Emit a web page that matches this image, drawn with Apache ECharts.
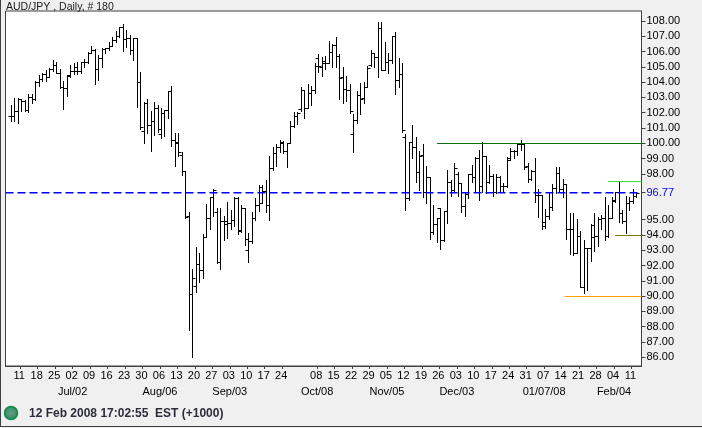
<!DOCTYPE html>
<html>
<head>
<meta charset="utf-8">
<style>
  html, body { margin: 0; padding: 0; background: #f0f0f0; overflow: hidden; }
  #chart { width: 702px; height: 428px; }
</style>
<script src="https://cdn.jsdelivr.net/npm/echarts@6/dist/echarts.min.js"></script>
</head>
<body>
<div id="chart"></div>
<script>
// AUD/JPY daily bars, one entry per session.
const opens = [
  101.77,101.81,102.12,102.93,102.78,102.16,103.02,102.88,104.02,104.24,
  104.54,104.33,104.89,105.13,104.63,103.69,103.60,104.48,104.74,104.70,
  104.70,105.31,105.31,105.92,106.09,104.85,105.57,106.18,106.27,106.38,
  106.73,107.03,107.60,106.84,106.88,106.12,106.88,104.00,100.83,102.62,
  101.20,101.47,102.29,100.59,101.97,102.19,103.45,100.22,100.07,99.24,
  98.21,95.24,90.11,90.66,92.08,91.71,93.89,95.09,96.84,95.48,
  92.25,94.91,94.71,94.80,94.98,96.44,94.32,95.74,93.01,93.62,
  95.09,95.96,97.16,96.88,95.96,98.36,99.34,99.74,100.00,99.52,
  100.00,101.13,101.79,102.22,103.49,102.29,103.32,103.49,105.56,105.02,
  105.23,105.23,105.96,106.44,105.74,104.32,103.58,103.47,100.58,101.50,
  103.16,102.94,103.66,105.13,105.89,105.67,107.57,104.80,105.34,105.45,
  107.02,104.14,104.51,100.39,96.44,100.06,99.78,98.10,99.23,96.83,
  97.77,94.17,94.69,95.74,93.64,95.56,97.44,96.94,97.99,97.37,
  95.89,96.65,97.96,97.81,99.06,97.22,99.16,97.44,97.88,96.83,
  97.81,97.22,97.22,99.01,99.51,99.51,99.93,99.93,98.53,97.67,
  98.19,96.62,96.62,94.61,95.26,95.85,97.05,98.08,96.99,97.34,
  94.37,94.37,92.80,93.93,90.57,93.12,93.12,93.89,93.93,95.02,
  95.09,93.93,95.09,96.29,96.84,95.46,94.94,96.07,96.25,96.55
];
const highs = [
  102.51,102.95,102.95,102.93,102.86,103.23,103.21,104.06,104.48,104.59,
  104.81,104.91,105.44,105.35,104.87,104.09,104.46,105.13,105.24,105.29,
  105.35,105.50,105.96,106.36,106.16,105.79,106.22,106.27,106.62,106.94,
  107.32,107.64,107.82,107.43,107.10,106.88,106.88,104.67,102.67,102.88,
  102.12,102.71,102.49,102.29,102.19,103.45,103.76,100.70,100.66,99.46,
  98.21,95.48,91.75,93.19,92.80,94.07,96.03,96.51,96.99,95.78,
  95.78,95.24,96.16,95.63,96.50,96.50,95.98,95.74,94.15,95.52,
  96.44,97.27,97.27,97.60,99.17,99.78,99.95,100.22,100.15,100.00,
  101.46,102.05,102.05,103.67,103.49,103.86,103.75,105.28,105.85,105.67,
  105.74,106.70,106.48,106.94,105.82,105.02,104.41,103.86,101.89,103.42,
  103.92,103.99,105.06,106.11,105.93,107.92,107.92,106.61,105.89,107.02,
  107.26,105.56,105.23,100.58,100.06,101.20,100.43,99.49,99.93,98.51,
  97.77,95.96,95.13,95.78,95.56,98.25,97.59,98.68,98.14,97.42,
  96.83,97.96,98.58,99.12,99.56,100.06,99.16,98.58,97.99,97.96,
  97.88,97.37,99.12,99.71,99.56,99.99,100.21,99.99,98.68,98.26,
  99.02,97.01,96.62,95.68,96.73,97.34,98.43,98.43,97.64,97.34,
  95.46,95.46,95.02,94.26,93.67,93.12,94.72,95.42,95.20,95.31,
  96.51,95.96,96.47,96.84,97.49,95.64,96.55,96.51,96.99,96.84
];
const lows = [
  101.47,101.49,101.36,102.14,102.10,102.08,102.62,102.82,103.78,104.11,
  104.11,104.33,104.70,104.59,103.65,102.23,103.10,104.37,104.54,104.54,
  104.63,105.02,105.24,105.90,103.87,104.15,105.02,105.90,106.12,106.38,
  106.60,106.99,106.07,106.33,105.83,105.42,102.40,100.92,100.05,100.66,
  99.52,100.55,100.77,100.33,100.48,101.68,99.85,98.52,99.17,97.91,
  95.09,87.78,86.03,90.29,90.94,91.21,93.89,94.39,95.27,92.14,
  91.75,93.67,93.78,94.37,94.58,94.08,94.21,93.34,92.25,93.49,
  94.98,95.59,96.07,95.52,94.98,98.25,98.51,99.45,99.39,98.47,
  100.00,101.09,101.26,102.12,101.68,102.29,102.51,103.32,104.69,104.43,
  104.84,105.23,105.02,105.02,102.88,102.66,102.77,101.96,99.41,101.31,
  101.89,102.66,103.66,105.08,105.02,104.36,104.80,104.80,104.58,105.23,
  103.23,103.71,100.76,95.63,96.28,99.01,97.48,96.94,96.50,96.06,
  93.71,94.03,93.55,93.07,93.60,94.75,96.55,96.79,96.55,95.52,
  95.26,96.39,97.44,96.79,96.28,96.79,96.72,97.37,96.57,96.72,
  96.87,96.79,97.16,98.90,99.06,99.23,99.56,98.31,97.48,97.60,
  96.18,95.16,94.37,94.43,95.02,95.64,96.73,96.84,96.51,93.71,
  92.73,92.69,92.80,90.57,90.18,90.40,92.32,92.97,93.28,94.37,
  93.67,93.85,95.09,96.18,94.87,94.76,94.15,95.64,96.07,96.51
];
const closes = [
  101.81,102.12,102.93,102.78,102.16,103.02,102.88,104.02,104.24,104.54,
  104.33,104.89,105.13,104.63,103.69,103.60,104.41,104.70,105.02,104.70,
  105.31,105.31,105.92,106.09,104.85,105.57,106.18,106.27,106.40,106.73,
  107.03,107.60,106.84,106.88,106.12,106.88,104.00,101.05,102.62,101.20,
  101.47,102.29,100.92,101.97,102.19,103.45,100.22,100.00,99.46,98.21,
  95.20,90.11,91.16,92.08,91.71,93.89,95.09,96.51,96.95,92.25,
  94.91,94.91,94.80,94.98,96.44,94.26,95.74,93.71,93.62,95.09,
  95.96,96.11,96.88,95.96,98.36,99.34,99.74,100.11,99.52,100.00,
  101.13,101.79,101.96,103.49,102.29,103.32,103.49,105.06,105.06,105.41,
  105.23,105.96,106.44,105.74,104.25,103.58,103.47,102.13,101.50,103.16,
  102.88,103.66,104.91,105.89,105.67,107.57,104.80,105.34,105.45,107.02,
  104.14,104.51,100.87,96.44,100.06,99.78,98.10,99.19,96.83,97.77,
  94.17,94.69,95.13,93.64,95.56,97.44,96.94,98.36,97.37,95.89,
  96.65,97.96,97.81,99.06,97.22,99.16,97.44,97.88,96.83,97.81,
  97.22,97.22,98.90,99.51,99.51,99.93,99.93,98.42,97.66,98.19,
  96.62,96.62,94.83,95.26,95.85,97.05,98.08,96.99,97.34,94.37,
  94.37,92.80,93.93,90.57,93.12,93.12,94.65,93.93,95.02,95.09,
  93.93,95.09,96.25,96.84,95.46,94.94,96.07,96.25,96.55,96.77
];

// Weekly date labels under the bars; the blank week has no tick.
const weekLabels = [
  '11','18','25','02','09','16','23','30','06','13','20','27',
  '03','10','17','24','','08','15','22','29','05','12','19',
  '26','03','10','17','24','31','07','14','21','28','04','11'
];
// Month captions, keyed by the week they sit under.
const monthLabels = {
  3: 'Jul/02', 8: 'Aug/06', 12: 'Sep/03', 17: 'Oct/08',
  21: 'Nov/05', 25: 'Dec/03', 30: '01/07/08', 34: 'Feb/04'
};
const firstWeekBar = 2.7;
const barsPerWeek = 5;

// Price scale marks; 96 and 97 give way to the last-close label.
const priceTicks = [86,87,88,89,90,91,92,93,94,95,98,99,100,101,102,103,104,105,106,107,108];

const lastClose = closes[closes.length - 1];

// Horizontal study lines: price, first bar, colour.
const levelPrices = [100, 97.53, 94, 90, lastClose];
const levelStarts = [122, 171, 173, 158.5, -1.52];
const levelColors = ['#0a700a', '#30e030', '#7a7a10', '#ffa000', '#0000ff'];
const dashedLevel = 4;

const weekTicks = weekLabels
  .map((label, k) => ({ label, k, bar: firstWeekBar + k * barsPerWeek }))
  .filter(w => w.label !== '');
const monthTicks = Object.keys(monthLabels).map(k => firstWeekBar + Number(k) * barsPerWeek);

function weekFromBar(v) {
  return Math.round((v - firstWeekBar) / barsPerWeek);
}

function crisp(v) {
  return Math.round(v) + 0.5;
}

const font = '"Liberation Sans", Arial, sans-serif';
const barData = closes.map((c, i) => [i, opens[i], highs[i], lows[i], c]);
const levelData = levelPrices.map((p, i) => [levelStarts[i], p]);
const barMin = -1.52;
const barMax = 180.57;

const chart = echarts.init(document.getElementById('chart'), null, { renderer: 'canvas' });

chart.setOption({
  animation: false,
  backgroundColor: '#f0f0f0',
  textStyle: { fontFamily: font },
  grid: {
    left: 5.5, top: 11, right: 60.5, bottom: 62,
    show: true, backgroundColor: '#ffffff', borderColor: '#404040', borderWidth: 1
  },
  xAxis: [
    {
      type: 'value',
      min: barMin,
      max: barMax,
      splitLine: { show: false },
      axisLine: { show: true, lineStyle: { color: '#404040' } },
      axisTick: {
        show: true, length: 3, lineStyle: { color: '#404040' },
        customValues: weekTicks.map(w => w.bar)
      },
      axisLabel: {
        color: '#000', fontSize: 11, fontFamily: font, margin: 4, padding: [0, 2, 0, 0],
        showMinLabel: true, showMaxLabel: true,
        customValues: weekTicks.map(w => w.bar),
        formatter: v => weekLabels[weekFromBar(v)]
      }
    },
    {
      type: 'value',
      position: 'bottom',
      offset: 16,
      min: barMin,
      max: barMax,
      splitLine: { show: false },
      axisLine: { show: false },
      axisTick: { show: false },
      axisLabel: {
        color: '#000', fontSize: 11, fontFamily: font, margin: 4,
        showMinLabel: true, showMaxLabel: true,
        customValues: monthTicks,
        formatter: v => monthLabels[weekFromBar(v)]
      }
    }
  ],
  yAxis: {
    type: 'value',
    position: 'right',
    min: 85.42,
    max: 108.66,
    splitLine: { show: false },
    axisLine: { show: true, onZero: false, lineStyle: { color: '#404040' } },
    axisTick: {
      show: true, length: 4, lineStyle: { color: '#404040' },
      customValues: priceTicks.concat([lastClose])
    },
    axisLabel: {
      fontSize: 11, fontFamily: font, margin: 5, padding: [2, 0, 0, 0],
      showMinLabel: true, showMaxLabel: true,
      customValues: priceTicks.concat([lastClose]),
      formatter: v => v.toFixed(2),
      color: v => (Number(v) === lastClose ? '#0000ff' : '#000000')
    }
  },
  series: [
    {
      type: 'custom',
      coordinateSystem: 'cartesian2d',
      encode: { x: 0, y: [1, 2, 3, 4] },
      data: barData,
      clip: true,
      silent: true,
      renderItem: (params, api) => {
        const i = api.value(0);
        const x = crisp(api.coord([i, 0])[0]);
        const y = v => crisp(api.coord([i, v])[1]);
        const stroke = { stroke: '#000', lineWidth: 1, fill: null };
        const seg = (x1, y1, x2, y2) => ({
          type: 'line', shape: { x1, y1, x2, y2 }, style: stroke
        });
        return {
          type: 'group',
          children: [
            seg(x, y(api.value(2)) - 0.5, x, y(api.value(3)) + 0.5),
            seg(x - 3, y(api.value(1)), x, y(api.value(1))),
            seg(x, y(api.value(4)), x + 3, y(api.value(4)))
          ]
        };
      }
    },
    {
      type: 'custom',
      coordinateSystem: 'cartesian2d',
      encode: { x: 0, y: 1 },
      data: levelData,
      silent: true,
      z: 3,
      renderItem: (params, api) => {
        const idx = params.dataIndex;
        const pt = api.coord([api.value(0), api.value(1)]);
        const right = params.coordSys.x + params.coordSys.width;
        const dashed = idx === dashedLevel;
        const y = dashed ? Math.round(pt[1]) - 0.25 : crisp(pt[1]);
        return {
          type: 'line',
          shape: { x1: pt[0], y1: y, x2: right, y2: y },
          style: {
            stroke: levelColors[idx],
            lineWidth: dashed ? 1.5 : 1,
            lineDash: dashed ? [8, 4] : null,
            fill: null
          }
        };
      }
    }
  ],
  graphic: [
    {
      type: 'text', left: 6, top: 2,
      style: { text: 'AUD/JPY , Daily, # 180', font: '10.5px ' + font, fill: '#1a1a1a' }
    },
    {
      type: 'text', left: 29, top: 408,
      style: { text: '12 Feb 2008 17:02:55  EST (+1000)', font: 'bold 12px ' + font, fill: '#2c2c3c' }
    },
    {
      type: 'circle', shape: { cx: 11, cy: 413, r: 6.5 },
      style: {
        stroke: '#0e8a4a', lineWidth: 1.5,
        fill: new echarts.graphic.RadialGradient(0.5, 0.5, 0.6, [
          { offset: 0, color: '#6a9a86' },
          { offset: 1, color: '#1f8a58' }
        ])
      }
    },
    {
      type: 'line', shape: { x1: 0.5, y1: 0, x2: 0.5, y2: 427 },
      style: { stroke: '#404040', lineWidth: 1 }
    },
    {
      type: 'line', shape: { x1: 0, y1: 426.5, x2: 702, y2: 426.5 },
      style: { stroke: '#404040', lineWidth: 1 }
    }
  ]
});
</script>
</body>
</html>
